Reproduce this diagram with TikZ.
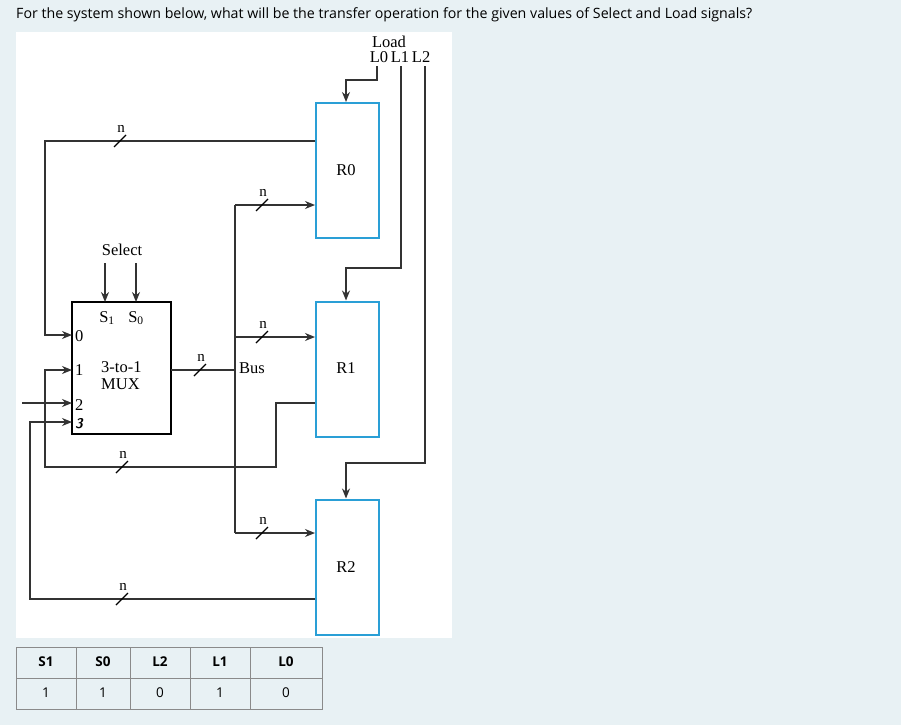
\documentclass[tikz,border=0pt]{standalone}
\usepackage{fontspec}
\setmainfont{Liberation Serif}
\newfontfamily\uisans{Open Sans}
\usetikzlibrary{arrows.meta}
\definecolor{bgc}{HTML}{E8F1F4}
\definecolor{regc}{HTML}{2A9FD6}
\definecolor{tblc}{HTML}{8A8A8A}
\begin{document}
\begin{tikzpicture}[x=1pt,y=-1pt,
  wire/.style={line width=1.6pt,draw=black!80},
  arr/.style={wire,-{Stealth[length=10pt,width=8pt]}},
  reg/.style={draw=regc,line width=2pt,fill=white,minimum width=63pt,minimum height=135pt,inner sep=0pt},
  lbl/.style={font=\fontsize{16.5}{16.5}\selectfont,inner sep=0pt},
  nlbl/.style={font=\fontsize{15}{15}\selectfont,inner sep=0pt},
  cell/.style={font=\uisans\fontsize{13.5}{13.5}\selectfont,inner sep=0pt},
  hcell/.style={font=\uisans\bfseries\fontsize{13.5}{13.5}\selectfont,inner sep=0pt}]
\useasboundingbox (0,0) rectangle (901,725);
\fill[bgc] (0,0) rectangle (901,725);
\fill[white] (16,32) rectangle (452,638);
\node[anchor=west,font=\uisans\fontsize{14.2}{14.2}\selectfont,inner sep=0pt] (title) at (16,15) {For the system shown below, what will be the transfer operation for the given values of Select and Load signals?};
% registers
\node[reg] (R0) at (347.5,170.5) {}; \node[lbl] (r0t) at (346,170) {R0};
\node[reg] (R1) at (347.5,369) {}; \node[lbl] (r1t) at (346,368) {R1};
\node[reg] (R2) at (347.5,567) {}; \node[lbl] (r2t) at (346,567) {R2};
% load
\node[lbl] (load) at (389,42) {Load};
\node[lbl] (lls) at (400,57) {L0\,L1\,L2};
\coordinate (l0) at (377,66); \coordinate (l1) at (401,66); \coordinate (l2) at (425,66);
\draw[arr] (l0) |- (346,80) -- (R0.north-|346,0);
\draw[arr] (l1) |- (346,268) -- (R1.north-|346,0);
\draw[arr] (l2) |- (346,463) -- (R2.north-|346,0);
% mux
\draw[line width=1.8pt] (72,302) rectangle (171,434);
\node[lbl] (sel) at (122,250) {Select};
\node[lbl] (s1) at (107,318) {S\textsubscript{1}};
\node[lbl] (s0) at (136,318) {S\textsubscript{0}};
\draw[arr] (105,263) -- (105,302);
\draw[arr] (136,263) -- (136,302);
\node[lbl,anchor=west] (i0) at (75,336) {0};
\node[lbl,anchor=west] (i1) at (75,370) {1};
\node[lbl,anchor=west] (i2) at (75,405) {2};
\node[lbl,anchor=west,font=\sffamily\bfseries\itshape\fontsize{14}{14}\selectfont] (i3) at (75,424) {3};
\node[lbl,anchor=west] (mt1) at (101,367) {3-to-1};
\node[lbl,anchor=west] (mt2) at (101,384) {MUX};
% R0 feedback to input 0
\draw[arr] (R0.west|-0,141) -- (45,141) -- (45,335) -- (72,335);
% mux -> bus
\coordinate (bt) at (235,205); \coordinate (bb) at (235,533);
\draw[wire] (171,370) -- (235,370);
\node[lbl,anchor=west] (bus) at (239,368) {Bus};
\draw[wire] (bt) -- (bb);
\draw[arr] (bt) -- (R0.west|-0,205);
\draw[arr] (235,337) -- (R1.west|-0,337);
\draw[arr] (bb) -- (R2.west|-0,533);
% R1 feedback to input 1
\draw[arr] (R1.west|-0,403) -- (276,403) -- (276,467) -- (45,467) -- (45,370) -- (72,370);
% input 2
\draw[arr] (22,403) -- (72,403);
% R2 feedback to input 3
\draw[arr] (R2.west|-0,599) -- (30,599) -- (30,422) -- (72,422);
% slashes
\foreach \x/\y in {120/141,262/205,200/370,262/337,122/467,262/533,122/599}{
  \draw[line width=1.1pt] (\x-6,\y+6) -- (\x+6,\y-6);
  \node[nlbl] at (\x+1,\y-12) {n};
}
% table
\fill[bgc] (16,647) rectangle (322,709);
\draw[tblc,line width=0.9pt] (16,647) rectangle (322,709);
\draw[tblc,line width=0.9pt] (16,678) -- (322,678);
\foreach \x in {76,130,190,250}{\draw[tblc,line width=0.9pt] (\x,647) -- (\x,709);}
\foreach \a/\b/\h/\v in {16/76/S1/1,76/130/S0/1,130/190/L2/0,190/250/L1/1,250/322/L0/0}{
  \node[hcell] at ({(\a+\b)/2},662) {\h};
  \node[cell] at ({(\a+\b)/2},693) {\v};
}
\end{tikzpicture}
\end{document}
